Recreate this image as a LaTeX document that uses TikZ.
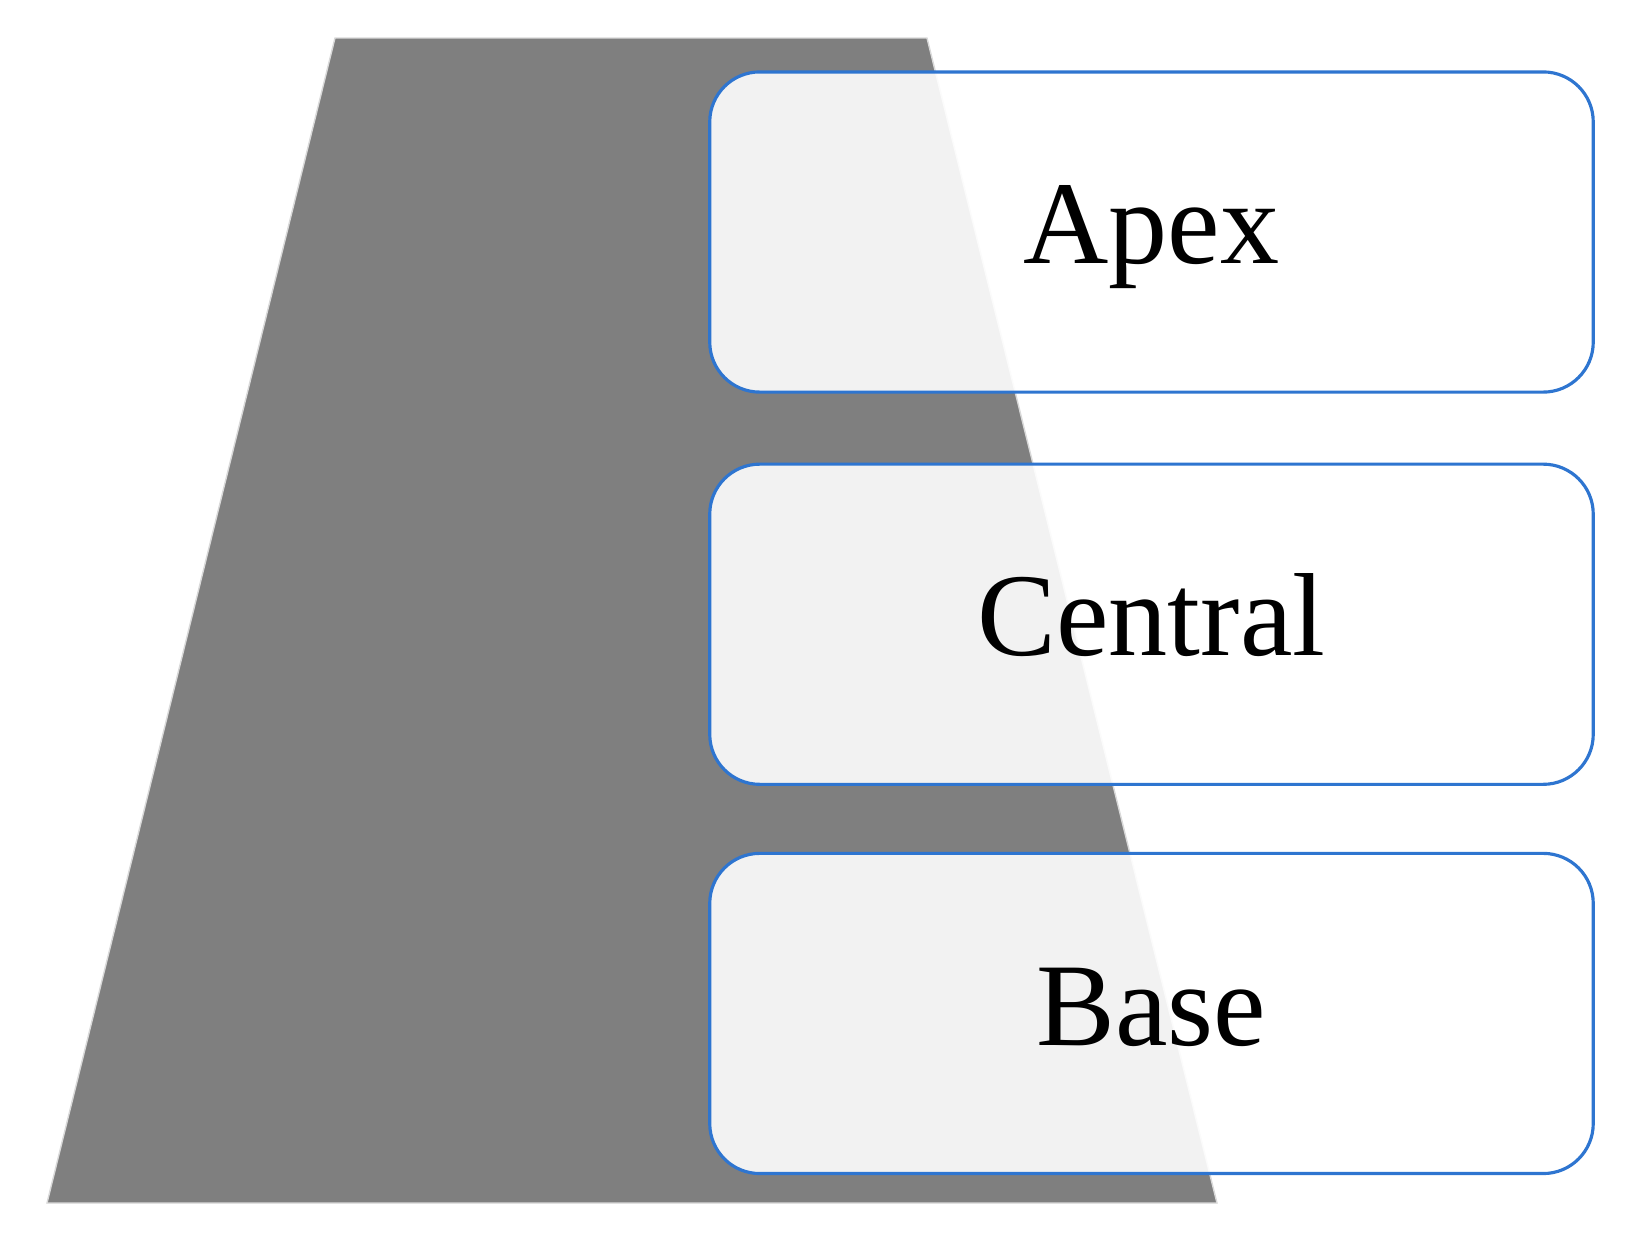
\documentclass[tikz,border=0pt]{standalone}
\usepackage{fontspec}
\setmainfont{Liberation Serif}
\usepackage{xcolor}
\usetikzlibrary{positioning}
\definecolor{tierblue}{RGB}{46,117,208}
\definecolor{pyramidgray}{RGB}{127,127,127}
\definecolor{edgegray}{RGB}{217,217,217}

\begin{document}
\begin{tikzpicture}[
    x=0.01cm, y=-0.01cm,
    node distance=0.7cm,
    tier/.style={rectangle, rounded corners=0.5cm, minimum width=8.83cm, minimum height=3.2cm, outer sep=0pt, text centered, draw=tierblue, line width=0.9pt, fill=white, fill opacity=0.9, text opacity=1, font=\fontsize{33.6}{40}\selectfont, text height=24pt, text depth=6pt},
    slab/.style={fill=pyramidgray, draw=edgegray, line width=0.4pt}
]
\useasboundingbox (0,0) rectangle (1641,1235);

% background trapezoid
\draw[slab] (335,38) -- (927,38) -- (1217,1203) -- (47,1203) -- cycle;

\node[tier] (apex) at (1151.5,232) {Apex};
\node[tier, below=0.72cm of apex] (central) {Central};
\node[tier, below=0.69cm of central] (base) {Base};

\end{tikzpicture}
\end{document}
